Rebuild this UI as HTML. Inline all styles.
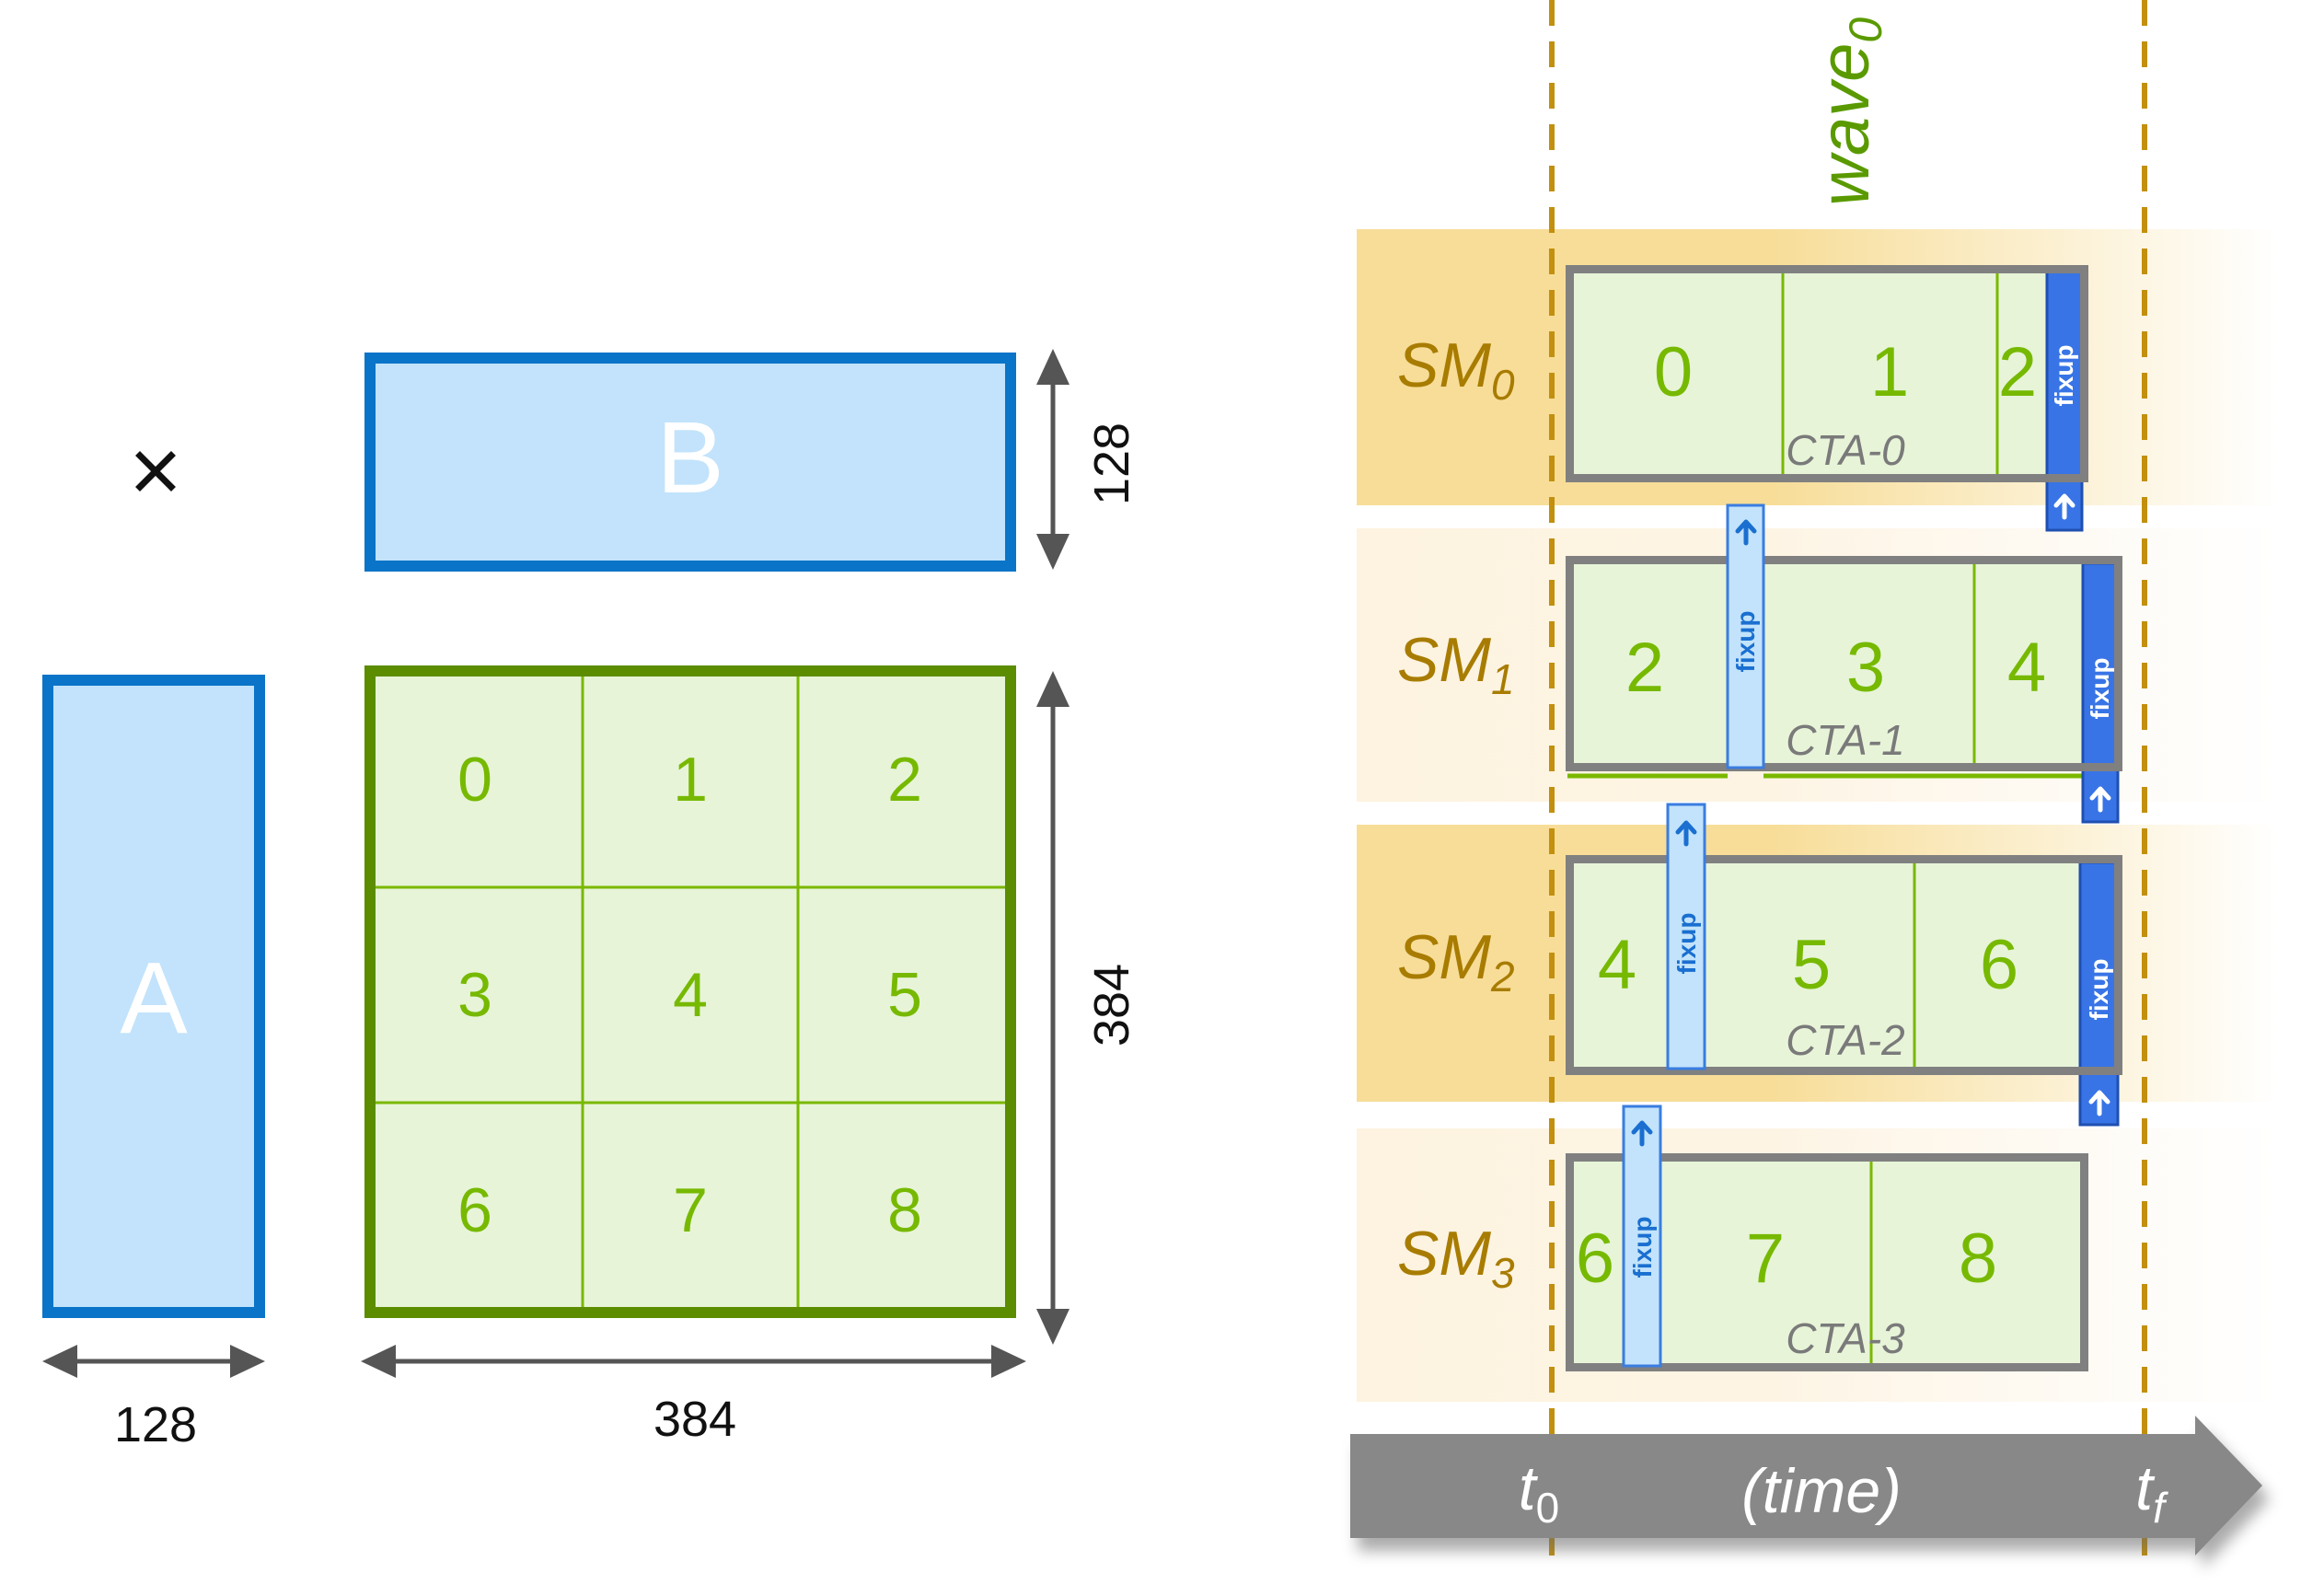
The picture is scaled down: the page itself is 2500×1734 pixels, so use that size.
<!DOCTYPE html>
<html><head><meta charset="utf-8"><style>
html,body{margin:0;padding:0;background:#fff;}
svg{display:block;}
text{font-family:"Liberation Sans",sans-serif;}
</style></head><body>
<svg width="2500" height="1734" viewBox="0 0 2500 1734" xmlns="http://www.w3.org/2000/svg">
<defs>
<linearGradient id="gd" x1="0" x2="1" y1="0" y2="0">
<stop offset="0" stop-color="#f7dd98"/><stop offset="0.45" stop-color="#f7dd98"/><stop offset="1" stop-color="#f7dd98" stop-opacity="0"/>
</linearGradient>
<linearGradient id="gl" x1="0" x2="1" y1="0" y2="0">
<stop offset="0" stop-color="#fdf3e0"/><stop offset="0.45" stop-color="#fdf4e4"/><stop offset="1" stop-color="#fdf4e4" stop-opacity="0"/>
</linearGradient>
<filter id="sh" x="-5%" y="-20%" width="110%" height="150%"><feGaussianBlur stdDeviation="8"/></filter>
</defs>

<!-- LEFT: B -->
<rect x="402" y="389" width="696" height="226" fill="#c2e3fb" stroke="#0a74c8" stroke-width="12"/>
<text x="750" y="535" font-size="110" fill="#fff" text-anchor="middle">B</text>
<!-- A -->
<rect x="52" y="739" width="230" height="687" fill="#c2e3fb" stroke="#0a74c8" stroke-width="12"/>
<text x="167" y="1122" font-size="110" fill="#fff" text-anchor="middle">A</text>
<!-- times -->
<g stroke="#111" stroke-width="7" stroke-linecap="square"><line x1="152" y1="495" x2="186" y2="529"/><line x1="186" y1="495" x2="152" y2="529"/></g>
<!-- C grid -->
<rect x="402" y="729" width="696" height="697" fill="#e7f4d8" stroke="#5c8d00" stroke-width="12"/>
<g stroke="#7ab800" stroke-width="3">
<line x1="633" y1="735" x2="633" y2="1420"/><line x1="867" y1="735" x2="867" y2="1420"/>
<line x1="408" y1="964" x2="1092" y2="964"/><line x1="408" y1="1198" x2="1092" y2="1198"/>
</g>
<g font-size="68" fill="#76b900" text-anchor="middle">
<text x="516" y="870">0</text><text x="750" y="870">1</text><text x="983" y="870">2</text>
<text x="516" y="1104">3</text><text x="750" y="1104">4</text><text x="983" y="1104">5</text>
<text x="516" y="1338">6</text><text x="750" y="1338">7</text><text x="983" y="1338">8</text>
</g>
<!-- dimension arrows -->
<g stroke="#555" stroke-width="5" fill="#555">
<line x1="1144" y1="410" x2="1144" y2="590"/>
<polygon points="1144,379 1126,418 1162,418" stroke="none"/>
<polygon points="1144,619 1126,580 1162,580" stroke="none"/>
<line x1="1144" y1="760" x2="1144" y2="1430"/>
<polygon points="1144,729 1126,768 1162,768" stroke="none"/>
<polygon points="1144,1461 1126,1422 1162,1422" stroke="none"/>
<line x1="80" y1="1479" x2="255" y2="1479"/>
<polygon points="46,1479 84,1461 84,1497" stroke="none"/>
<polygon points="288,1479 250,1461 250,1497" stroke="none"/>
<line x1="425" y1="1479" x2="1082" y2="1479"/>
<polygon points="392,1479 430,1461 430,1497" stroke="none"/>
<polygon points="1115,1479 1077,1461 1077,1497" stroke="none"/>
</g>
<g font-size="54" fill="#111" text-anchor="middle">
<text transform="translate(1226,504) rotate(-90)">128</text>
<text transform="translate(1226,1092) rotate(-90)">384</text>
<text x="169" y="1566">128</text>
<text x="755" y="1560">384</text>
</g>

<!-- RIGHT: bands -->
<rect x="1474" y="249" width="1000" height="300" fill="url(#gd)"/>
<rect x="1474" y="574" width="1000" height="297" fill="url(#gl)"/>
<rect x="1474" y="896" width="1000" height="301" fill="url(#gd)"/>
<rect x="1474" y="1226" width="1000" height="297" fill="url(#gl)"/>

<!-- dashed time lines -->
<g stroke="#c2900e" stroke-width="6" stroke-dasharray="28,17">
<line x1="1686" y1="0" x2="1686" y2="1690"/>
<line x1="2330" y1="0" x2="2330" y2="1690"/>
</g>

<!-- SM labels -->
<g font-family="'Liberation Sans Narrow','Liberation Sans',sans-serif" font-style="italic" font-size="68" fill="#a87c00">
<text x="1518" y="420">SM<tspan font-size="46" dy="14">0</tspan></text>
<text x="1518" y="740">SM<tspan font-size="46" dy="14">1</tspan></text>
<text x="1518" y="1063">SM<tspan font-size="46" dy="14">2</tspan></text>
<text x="1518" y="1385">SM<tspan font-size="46" dy="14">3</tspan></text>
</g>

<!-- time arrow -->
<g filter="url(#sh)" opacity="0.55" transform="translate(8,14)">
<polygon points="1467,1558 2385,1558 2385,1538 2458,1614 2385,1690 2385,1671 1467,1671" fill="#666"/>
</g>
<polygon points="1467,1558 2385,1558 2385,1538 2458,1614 2385,1690 2385,1671 1467,1671" fill="#888"/>
<g font-size="68" font-style="italic" fill="#fff" text-anchor="middle">
<text x="1672" y="1640">t<tspan font-size="46" dy="14" font-style="normal">0</tspan></text>
<text x="1979" y="1643">(time)</text>
<text x="2336" y="1640">t<tspan font-size="46" dy="14">f</tspan></text>
</g>

<!-- CTA-0 -->
<rect x="1705" y="292" width="560" height="228" fill="#e7f4d8"/>
<g stroke="#7ab800" stroke-width="3"><line x1="1937" y1="292" x2="1937" y2="520"/><line x1="2170" y1="292" x2="2170" y2="520"/></g>
<g font-size="76" fill="#76b900" text-anchor="middle"><text x="1818" y="430">0</text><text x="2053" y="430">1</text><text x="2192" y="430">2</text></g>
<text x="2005" y="505" font-size="46" font-style="italic" fill="#7a7a7a" text-anchor="middle">CTA-0</text>
<rect x="2224" y="293" width="38" height="283" fill="#3874e6" stroke="#1f4fb0" stroke-width="3"/>
<rect x="1705.5" y="292.5" width="559" height="227" fill="none" stroke="#808080" stroke-width="9"/>
<text transform="translate(2252,408) rotate(-90)" font-family="'Liberation Mono',monospace" font-size="28" font-weight="bold" fill="#fff" text-anchor="middle">fixup</text>

<!-- CTA-1 -->
<rect x="1705" y="608" width="597" height="226" fill="#e7f4d8"/>
<g stroke="#7ab800" stroke-width="3"><line x1="2145" y1="608" x2="2145" y2="834"/></g>
<g stroke="#7ab800" stroke-width="5"><line x1="1703" y1="843" x2="1877" y2="843"/><line x1="1916" y1="843" x2="2263" y2="843"/></g>
<g font-size="76" fill="#76b900" text-anchor="middle"><text x="1787" y="751">2</text><text x="2027" y="751">3</text><text x="2202" y="751">4</text></g>
<text x="2005" y="820" font-size="46" font-style="italic" fill="#7a7a7a" text-anchor="middle">CTA-1</text>
<rect x="2263" y="612" width="38" height="281" fill="#3874e6" stroke="#1f4fb0" stroke-width="3"/>
<rect x="1705.5" y="608.5" width="596" height="225" fill="none" stroke="#808080" stroke-width="9"/>
<rect x="1877" y="549" width="39" height="285" fill="#c2e3fb" stroke="#3a7de0" stroke-width="3"/>
<text transform="translate(1906,697) rotate(-90)" font-family="'Liberation Mono',monospace" font-size="28" font-weight="bold" fill="#1a6fd0" text-anchor="middle">fixup</text>
<text transform="translate(2291,748) rotate(-90)" font-family="'Liberation Mono',monospace" font-size="28" font-weight="bold" fill="#fff" text-anchor="middle">fixup</text>

<!-- CTA-2 -->
<rect x="1705" y="933" width="597" height="231" fill="#e7f4d8"/>
<g stroke="#7ab800" stroke-width="3"><line x1="2080" y1="933" x2="2080" y2="1164"/></g>
<g font-size="76" fill="#76b900" text-anchor="middle"><text x="1757" y="1074">4</text><text x="1968" y="1074">5</text><text x="2172" y="1074">6</text></g>
<text x="2005" y="1146" font-size="46" font-style="italic" fill="#7a7a7a" text-anchor="middle">CTA-2</text>
<rect x="2260" y="937" width="41" height="285" fill="#3874e6" stroke="#1f4fb0" stroke-width="3"/>
<rect x="1705.5" y="933.5" width="596" height="230" fill="none" stroke="#808080" stroke-width="9"/>
<rect x="1812" y="874" width="40" height="287" fill="#c2e3fb" stroke="#3a7de0" stroke-width="3"/>
<text transform="translate(1842,1025) rotate(-90)" font-family="'Liberation Mono',monospace" font-size="28" font-weight="bold" fill="#1a6fd0" text-anchor="middle">fixup</text>
<text transform="translate(2290,1075) rotate(-90)" font-family="'Liberation Mono',monospace" font-size="28" font-weight="bold" fill="#fff" text-anchor="middle">fixup</text>

<!-- CTA-3 -->
<rect x="1705" y="1257" width="560" height="229" fill="#e7f4d8"/>
<g stroke="#7ab800" stroke-width="3"><line x1="2033" y1="1257" x2="2033" y2="1486"/></g>
<g font-size="76" fill="#76b900" text-anchor="middle"><text x="1733" y="1393">6</text><text x="1918" y="1393">7</text><text x="2149" y="1393">8</text></g>
<text x="2005" y="1470" font-size="46" font-style="italic" fill="#7a7a7a" text-anchor="middle">CTA-3</text>
<rect x="1705.5" y="1257.5" width="559" height="228" fill="none" stroke="#808080" stroke-width="9"/>
<rect x="1764" y="1202" width="40" height="282" fill="#c2e3fb" stroke="#3a7de0" stroke-width="3"/>
<text transform="translate(1794,1355) rotate(-90)" font-family="'Liberation Mono',monospace" font-size="28" font-weight="bold" fill="#1a6fd0" text-anchor="middle">fixup</text>

<!-- small up arrows -->
<g fill="none" stroke-width="5" stroke-linecap="round" stroke-linejoin="round">
<g stroke="#fff"><path d="M2243,562 v-22 M2234,549 l9,-10 l9,10"/>
<path d="M2282,880 v-22 M2273,867 l9,-10 l9,10"/>
<path d="M2281,1210 v-22 M2272,1197 l9,-10 l9,10"/></g>
<g stroke="#1a6fd0"><path d="M1897,590 v-22 M1888,577 l9,-10 l9,10"/>
<path d="M1832,917 v-22 M1823,904 l9,-10 l9,10"/>
<path d="M1784,1243 v-22 M1775,1230 l9,-10 l9,10"/></g>
</g>

<!-- wave0 -->
<text transform="translate(2030,224) rotate(-90)" font-size="76" font-style="italic" fill="#5a9a00">wave<tspan font-size="50" dy="14">0</tspan></text>
</svg>
</body></html>
